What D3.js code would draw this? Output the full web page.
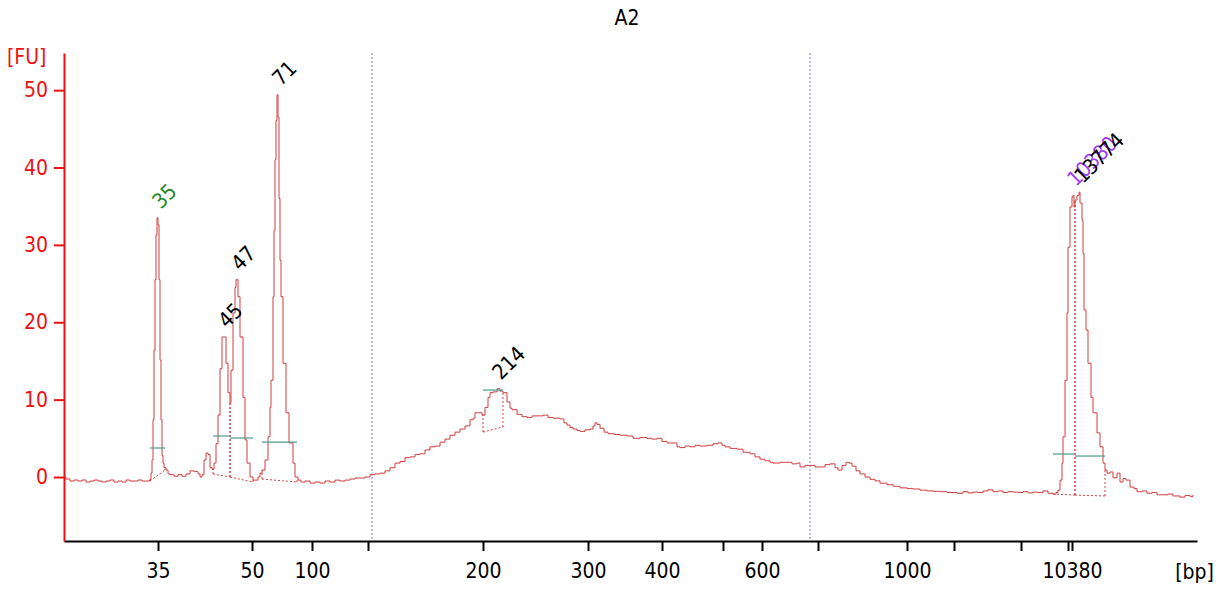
<!DOCTYPE html>
<html>
<head>
<meta charset="utf-8">
<script src="https://cdn.jsdelivr.net/npm/d3@7"></script>
<style>
  body { margin: 0; background: #fff; }
  text { font-family: "DejaVu Sans Condensed", "Liberation Sans", sans-serif; }
</style>
</head>
<body>
<div id="trace"></div>
<script>
// electropherogram sample A2 (migration time in s vs fluorescence units)
var sampleName = "A2";

var signalTime = [20.0,20.2,20.6,21.0,21.4,21.8,22.2,22.6,23.0,23.4,23.8,24.2,24.6,25.0,25.4,25.8,26.2,26.6,27.0,27.4,27.8,28.2,28.5,
  28.6,28.7,28.8,28.9,29.0,29.1,29.2,29.3,29.4,29.5,29.6,29.7,29.8,29.9,30.0,30.2,30.4,30.6,31.0,31.4,31.8,32.2,32.6,33.0,33.4,33.6,33.8,
  34.0,34.2,34.4,34.6,34.8,35.0,35.2,35.4,35.6,35.8,36.0,36.2,36.4,36.6,36.7,36.9,37.1,37.2,37.4,37.6,37.9,38.1,38.3,38.6,38.9,39.2,39.4,
  39.6,39.8,40.1,40.4,40.6,40.7,40.9,41.0,41.1,41.2,41.3,41.4,41.5,41.6,41.7,41.9,42.2,42.5,42.9,43.1,43.4,43.7,44.1,44.6,45.1,45.6,46.1,
  46.6,47.1,47.6,48.1,48.6,49.1,49.6,50.1,50.6,51.1,51.6,52.1,52.6,53.1,53.6,54.1,54.6,55.1,55.6,56.1,56.6,57.1,57.6,58.1,58.6,59.1,59.6,
  60.1,60.6,60.9,61.1,61.5,61.8,62.1,62.4,62.6,62.9,63.3,63.6,63.9,64.3,64.6,64.8,65.3,65.8,66.3,66.8,67.3,67.9,68.4,68.9,69.6,70.0,70.3,
  70.6,70.9,71.3,71.6,72.1,72.6,72.9,73.1,73.3,73.6,74.0,74.4,75.0,75.6,76.3,76.9,77.6,78.3,78.8,79.3,79.8,80.3,80.9,81.3,81.6,82.1,82.6,
  83.1,83.6,84.3,84.9,85.4,85.8,86.1,86.6,87.3,87.9,88.6,89.1,89.6,90.1,90.6,90.9,91.6,92.3,92.8,93.3,93.6,94.1,94.6,95.1,95.6,96.1,96.6,
  97.1,97.4,97.8,98.2,98.5,98.8,99.2,99.6,100.1,100.6,101.1,101.6,102.3,102.9,103.6,104.3,104.9,105.6,106.3,106.9,107.6,108.3,108.9,109.3,
  109.9,110.4,110.9,111.4,111.9,112.4,112.9,113.4,113.9,114.4,114.9,115.4,115.9,116.4,116.9,117.4,117.9,118.4,118.9,119.2,119.4,119.6,
  119.8,119.9,120.1,120.3,120.4,120.6,120.8,120.9,121.0,121.1,121.3,121.5,121.6,121.8,121.9,122.0,122.2,122.4,122.7,122.9,123.3,123.6,
  123.9,124.1,124.3,124.6,124.9,125.3,125.6,125.9,126.2,126.6,127.0,127.3,127.8,128.3,128.8,129.3,129.9,130.4,130.9,131.6,132.1,132.6,132.9];

var signalFU = [0,-0.26,-0.52,-0.39,-0.52,-0.39,-0.65,-0.52,-0.39,-0.52,-0.65,-0.52,-0.39,-0.65,-0.52,-0.65,-0.39,-0.52,-0.52,-0.39,-0.52,-0.52,-0.45,
  -0.3,0.5,2.2,7.4,16.4,25.5,31.3,33.5,32.6,25.5,15.1,7.4,2.8,1.8,1.2,0.9,0.4,0.3,0.1,0.3,0.1,0.4,0.8,0.7,0.4,0.0,0.3,
  2.2,3.1,2.9,1.2,1.0,1.8,4.3,8.0,14.0,18.1,18.1,14.7,10.9,9.6,13.8,21.2,24.5,25.5,23.3,18.1,10.3,4.8,1.8,0.0,-0.4,-0.4,0.0,
  0.5,0.9,2.2,5.2,9.0,12.5,23.3,31.9,41.0,46.1,49.4,46.5,36.0,28.0,23.3,14.7,8.3,4.4,1.8,0.0,-0.4,-0.65,-0.52,-0.78,-0.65,-0.78,-0.52,
  -0.65,-0.4,-0.52,-0.4,-0.26,-0.13,-0.13,0.0,0.3,0.4,0.5,0.8,1.2,1.8,2.0,2.5,2.6,2.9,3.0,3.5,3.9,4.0,4.5,4.9,5.4,5.8,6.2,
  6.6,7.4,7.6,8.3,8.3,8.0,9.0,10.3,10.9,11.0,11.4,11.1,10.9,9.7,8.9,8.7,8.1,7.8,7.7,7.9,7.9,8.0,7.7,7.6,7.5,7.0,6.7,
  6.4,6.2,6.0,5.9,6.1,6.2,6.6,7.0,6.8,6.3,5.8,5.6,5.5,5.4,5.3,5.0,5.1,5.0,4.9,5.0,4.6,4.4,4.4,3.9,3.8,4.0,3.9,
  4.1,4.0,4.1,4.3,4.4,4.1,3.9,3.7,3.6,3.2,3.0,2.6,2.3,2.1,1.9,1.8,1.9,1.9,1.7,1.8,1.3,1.5,1.5,1.3,1.3,1.6,1.7,
  1.2,0.9,1.5,1.9,1.8,1.4,0.8,0.4,0.0,-0.3,-0.5,-0.8,-1.0,-1.2,-1.4,-1.5,-1.55,-1.7,-1.8,-1.85,-1.9,-2.0,-2.0,-2.1,
  -1.9,-2.05,-1.95,-2.0,-1.8,-1.65,-1.9,-1.8,-2.0,-1.9,-1.95,-2.0,-1.9,-2.05,-1.95,-2.0,-1.8,-2.1,-2.2,-2.0,-1.7,-0.4,
  1.8,5.2,12.5,21.2,29.7,34.9,36.2,36.4,34.9,35.8,36.4,36.8,35.4,33.2,28.9,21.6,19.0,14.7,10.3,8.3,5.7,3.9,
  1.8,0.9,0.5,0.65,-0.1,0.5,-0.65,-0.2,-0.4,-1.3,-1.5,-1.9,-1.8,-2.1,-2.0,-2.3,-2.3,-2.2,-2.45,-2.6,-2.4,-2.5,-2.3];

// ladder sizes on the x axis (only some get a label)
var ladderTime = [29.4, 38.8, 44.8, 50.4, 61.9, 72.4, 79.8, 85.9, 89.8, 95.4, 104.3, 109.0, 115.7, 120.4, 120.8];
var ladderLabel = ["35", "50", "100", "", "200", "300", "400", "", "600", "", "1000", "", "", "", "10380"];

var fuTicks = [0, 10, 20, 30, 40, 50];

// called peaks
var peakLabel = ["35", "45", "47", "71", "214", "10380", "13774"];
var peakTime = [29.3, 35.9, 37.2, 41.3, 63.3, 120.8, 121.5];
var peakFU = [33.5, 18.1, 25.5, 49.4, 11.4, 36.4, 36.8];
var peakColor = ["#1f8a1f", "#000", "#000", "#000", "#000", "#9a3cf0", "#000"];
var peakStartT = [28.6, 34.9, 36.6, 39.8, 61.9, 118.9, 121.1];
var peakEndT = [30.1, 36.6, 38.9, 43.3, 63.9, 121.1, 124.1];
var peakStartFU = [-0.52, 0.39, 0.0, -0.26, 5.81, -2.2, -2.33];
var peakEndFU = [0.9, 0.0, -0.65, -0.65, 6.46, -2.33, -2.45];
var widthFU = [3.75, 5.3, 5.04, 4.52, 11.24, 2.97, 2.71];

// region of interest markers
var regionTime = [50.8, 94.6];

var W = 1216, H = 590;
var margin = {top: 53, right: 19, bottom: 49, left: 64},
    width = W - margin.left - margin.right,
    height = H - margin.top - margin.bottom;
var fs = "21px";

var svg = d3.select("#trace")
  .append("svg")
    .attr("width", W)
    .attr("height", H);

var g = svg.append("g")
    .attr("transform", "translate(" + margin.left + "," + margin.top + ")");

var x = d3.scaleLinear().domain([20, 133.3]).range([0, width]);
var y = d3.scaleLinear().domain([-8.27, 54.8]).range([height, 0]);

var data = signalTime.map(function(t, i) { return {t: t, v: signalFU[i]}; });
var bis = d3.bisector(function(d) { return d.t; }).left;
function valueAt(t) {
  var i = bis(data, t);
  if (i <= 0) return data[0].v;
  if (i >= data.length) return data[data.length - 1].v;
  var a = data[i - 1], b = data[i];
  return a.v + (b.v - a.v) * (t - a.t) / (b.t - a.t);
}

// region lines
g.selectAll(".region")
  .data(regionTime)
  .enter()
  .append("line")
    .attr("x1", function(d) { return x(d); })
    .attr("x2", function(d) { return x(d); })
    .attr("y1", 0)
    .attr("y2", height)
    .attr("stroke", "#7b7bd6")
    .attr("stroke-width", 1)
    .attr("stroke-dasharray", "2,2");

// trace (step like the instrument output)
var line = d3.line()
  .curve(d3.curveStepAfter)
  .x(function(d) { return x(d.t); })
  .y(function(d) { return y(d.v); });
g.append("path")
  .datum(data)
  .attr("d", line)
  .attr("fill", "none")
  .attr("stroke", "#d03f3f")
  .attr("stroke-width", 1);

// peak baselines + boundaries (dotted)
var dotted = "2,2";
peakLabel.forEach(function(lab, i) {
  g.append("line")
    .attr("x1", x(peakStartT[i])).attr("y1", y(peakStartFU[i]))
    .attr("x2", x(peakEndT[i])).attr("y2", y(peakEndFU[i]))
    .attr("stroke", "#d03f3f").attr("stroke-dasharray", dotted);
  g.append("line")
    .attr("x1", x(peakStartT[i])).attr("y1", y(peakStartFU[i]))
    .attr("x2", x(peakStartT[i])).attr("y2", y(valueAt(peakStartT[i])))
    .attr("stroke", "#d03f3f").attr("stroke-dasharray", dotted);
  g.append("line")
    .attr("x1", x(peakEndT[i])).attr("y1", y(peakEndFU[i]))
    .attr("x2", x(peakEndT[i])).attr("y2", y(valueAt(peakEndT[i])))
    .attr("stroke", "#d03f3f").attr("stroke-dasharray", dotted);
  // width marker
  g.append("line")
    .attr("x1", x(peakStartT[i])).attr("x2", x(peakEndT[i]))
    .attr("y1", y(widthFU[i])).attr("y2", y(widthFU[i]))
    .attr("stroke", "#4f9a8c").attr("stroke-width", 1.2);
});

// peak labels, rotated
g.selectAll(".plab")
  .data(peakLabel)
  .enter()
  .append("text")
    .attr("transform", function(d, i) {
      return "translate(" + (x(peakTime[i]) + 4) + "," + (y(peakFU[i]) - 8) + ") rotate(-45)";
    })
    .attr("fill", function(d, i) { return peakColor[i]; })
    .style("font-size", fs)
    .text(function(d) { return d; });

// X axis
var xAxis = g.append("g")
  .attr("transform", "translate(0," + height + ")")
  .call(d3.axisBottom(x)
    .tickValues(ladderTime)
    .tickFormat(function(d, i) { return ladderLabel[i]; })
    .tickSize(10)
    .tickSizeOuter(0)
    .tickPadding(12));
xAxis.select(".domain").attr("stroke", "#000").attr("stroke-width", 2);
xAxis.selectAll(".tick line").attr("stroke", "#000").attr("stroke-width", 2);
xAxis.selectAll("text").style("font-size", fs).attr("fill", "#000")
  .style("font-family", null);

// Y axis
var yAxis = g.append("g")
  .call(d3.axisLeft(y)
    .tickValues(fuTicks)
    .tickSize(10)
    .tickSizeOuter(0)
    .tickPadding(6));
yAxis.select(".domain").attr("stroke", "#ee1111").attr("stroke-width", 2);
yAxis.selectAll(".tick line").attr("stroke", "#ee1111").attr("stroke-width", 2);
yAxis.selectAll("text").style("font-size", fs).attr("fill", "#ee1111")
  .style("font-family", null);
g.selectAll(".tick text").attr("font-family", null);
svg.selectAll("g").attr("font-family", null);

// unit labels and title
svg.append("text")
  .attr("x", 7).attr("y", 64)
  .attr("fill", "#ee1111")
  .style("font-size", fs)
  .text("[FU]");
svg.append("text")
  .attr("x", 1214).attr("y", 579)
  .attr("text-anchor", "end")
  .style("font-size", fs)
  .text("[bp]");
svg.append("text")
  .attr("x", 627).attr("y", 25)
  .attr("text-anchor", "middle")
  .style("font-size", fs)
  .text(sampleName);
</script>
</body>
</html>
